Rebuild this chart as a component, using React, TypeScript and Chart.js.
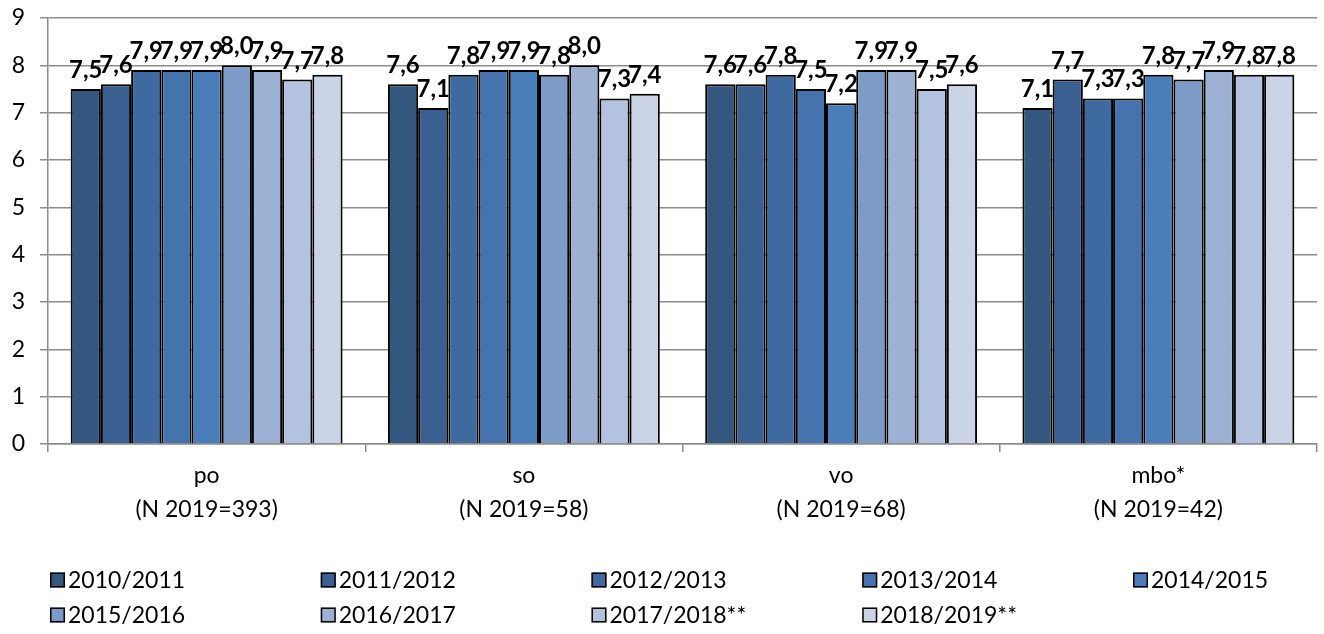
import React, { useEffect, useRef } from "react";
import { Chart, registerables } from "chart.js";

Chart.register(...registerables);

const categories: string[][] = [
  ["po", "(N 2019=393)"],
  ["so", "(N 2019=58)"],
  ["vo", "(N 2019=68)"],
  ["mbo*", "(N 2019=42)"],
];

const seriesNames: string[] = [
  "2010/2011",
  "2011/2012",
  "2012/2013",
  "2013/2014",
  "2014/2015",
  "2015/2016",
  "2016/2017",
  "2017/2018**",
  "2018/2019**",
];

const s2010_2011: number[] = [7.5, 7.6, 7.6, 7.1];
const s2011_2012: number[] = [7.6, 7.1, 7.6, 7.7];
const s2012_2013: number[] = [7.9, 7.8, 7.8, 7.3];
const s2013_2014: number[] = [7.9, 7.9, 7.5, 7.3];
const s2014_2015: number[] = [7.9, 7.9, 7.2, 7.8];
const s2015_2016: number[] = [8.0, 7.8, 7.9, 7.7];
const s2016_2017: number[] = [7.9, 8.0, 7.9, 7.9];
const s2017_2018: number[] = [7.7, 7.3, 7.5, 7.8];
const s2018_2019: number[] = [7.8, 7.4, 7.6, 7.8];

const seriesValues: number[][] = [
  s2010_2011,
  s2011_2012,
  s2012_2013,
  s2013_2014,
  s2014_2015,
  s2015_2016,
  s2016_2017,
  s2017_2018,
  s2018_2019,
];

const seriesColors: string[] = [
  "#34577F",
  "#3A5F91",
  "#3F6AA0",
  "#4573AE",
  "#4A7EBB",
  "#7C9BC7",
  "#9DB1D4",
  "#B3C2DF",
  "#CBD4E6",
];

const yTicks: number[] = [0, 1, 2, 3, 4, 5, 6, 7, 8, 9];

const FONT = "Lato, 'Open Sans', sans-serif";

const valueLabelPlugin = {
  id: "valueLabels",
  afterDatasetsDraw(chart: any) {
    const ctx = chart.ctx;
    ctx.save();
    ctx.font = `bold 24px ${FONT}`;
    ctx.fillStyle = "#000";
    ctx.textAlign = "center";
    ctx.textBaseline = "alphabetic";
    chart.data.datasets.forEach((ds: any, di: number) => {
      const meta = chart.getDatasetMeta(di);
      meta.data.forEach((el: any, i: number) => {
        const v = ds.data[i] as number;
        ctx.fillText(v.toFixed(1).replace(".", ","), el.x, el.y - 11);
      });
    });
    ctx.restore();
  },
};

const gridLegendPlugin = {
  id: "gridLegend",
  afterDraw(chart: any, _args: any, opts: any) {
    const ctx = chart.ctx;
    ctx.save();
    ctx.font = `23px ${FONT}`;
    ctx.textAlign = "left";
    ctx.textBaseline = "middle";
    chart.data.datasets.forEach((ds: any, i: number) => {
      const row = Math.floor(i / opts.perRow);
      const col = i % opts.perRow;
      const x = opts.x0 + col * opts.colW;
      const y = opts.rowY[row];
      const b = opts.box;
      ctx.fillStyle = ds.backgroundColor;
      ctx.fillRect(x, y - b / 2, b, b);
      ctx.strokeStyle = "#000";
      ctx.lineWidth = 1.5;
      ctx.strokeRect(x + 0.75, y - b / 2 + 0.75, b - 1.5, b - 1.5);
      ctx.fillStyle = "#000";
      ctx.fillText(ds.label, x + b + 3, y + 1);
    });
    ctx.restore();
  },
};

export default function App() {
  const ref = useRef<HTMLCanvasElement | null>(null);

  useEffect(() => {
    if (!ref.current) return;
    const chart = new Chart(ref.current, {
      type: "bar",
      data: {
        labels: categories,
        datasets: seriesNames.map((name, i) => ({
          label: name,
          data: seriesValues[i],
          backgroundColor: seriesColors[i],
          borderColor: "#000",
          borderWidth: 2,
          categoryPercentage: 0.857,
          barPercentage: 1,
        })),
      },
      options: {
        animation: false,
        responsive: false,
        maintainAspectRatio: false,
        devicePixelRatio: 1,
        layout: { padding: { top: 18, right: 7, left: 0, bottom: 0 } },
        plugins: {
          legend: { display: false },
          tooltip: { enabled: false },
          gridLegend: {
            x0: 50,
            colW: 270.75,
            perRow: 5,
            rowY: [580, 615],
            box: 15,
          },
        } as any,
        scales: {
          x: {
            offset: true,
            grid: {
              offset: true,
              drawOnChartArea: false,
              drawTicks: true,
              tickLength: 8,
              color: "#8c8c8c",
              lineWidth: 1.5,
            },
            border: { display: true, color: "#8c8c8c", width: 1.5 },
            ticks: {
              color: "#000",
              padding: 7,
              maxRotation: 0,
              autoSkip: false,
              font: { family: FONT, size: 23, lineHeight: 1.48 },
            },
            afterFit(scale: any) {
              scale.height = 190;
              scale.paddingLeft = 0;
              scale.paddingRight = 0;
            },
          },
          y: {
            min: 0,
            max: 9,
            afterBuildTicks(scale: any) {
              scale.ticks = yTicks.map((v) => ({ value: v }));
            },
            grid: {
              color: "#8c8c8c",
              lineWidth: 1.5,
              drawTicks: true,
              tickLength: 8,
            },
            border: { display: true, color: "#8c8c8c", width: 1.5 },
            ticks: {
              color: "#000",
              padding: 15,
              font: { family: FONT, size: 23 },
            },
            afterFit(scale: any) {
              scale.width = 48;
              scale.paddingTop = 0;
              scale.paddingBottom = 0;
            },
          },
        },
      },
      plugins: [valueLabelPlugin, gridLegendPlugin],
    });
    return () => chart.destroy();
  }, []);

  return (
    <div style={{ position: "fixed", left: 0, top: 0, width: 1324, height: 634, background: "#fff" }}>
      <canvas ref={ref} width={1324} height={634} style={{ width: 1324, height: 634, display: "block" }} />
    </div>
  );
}
